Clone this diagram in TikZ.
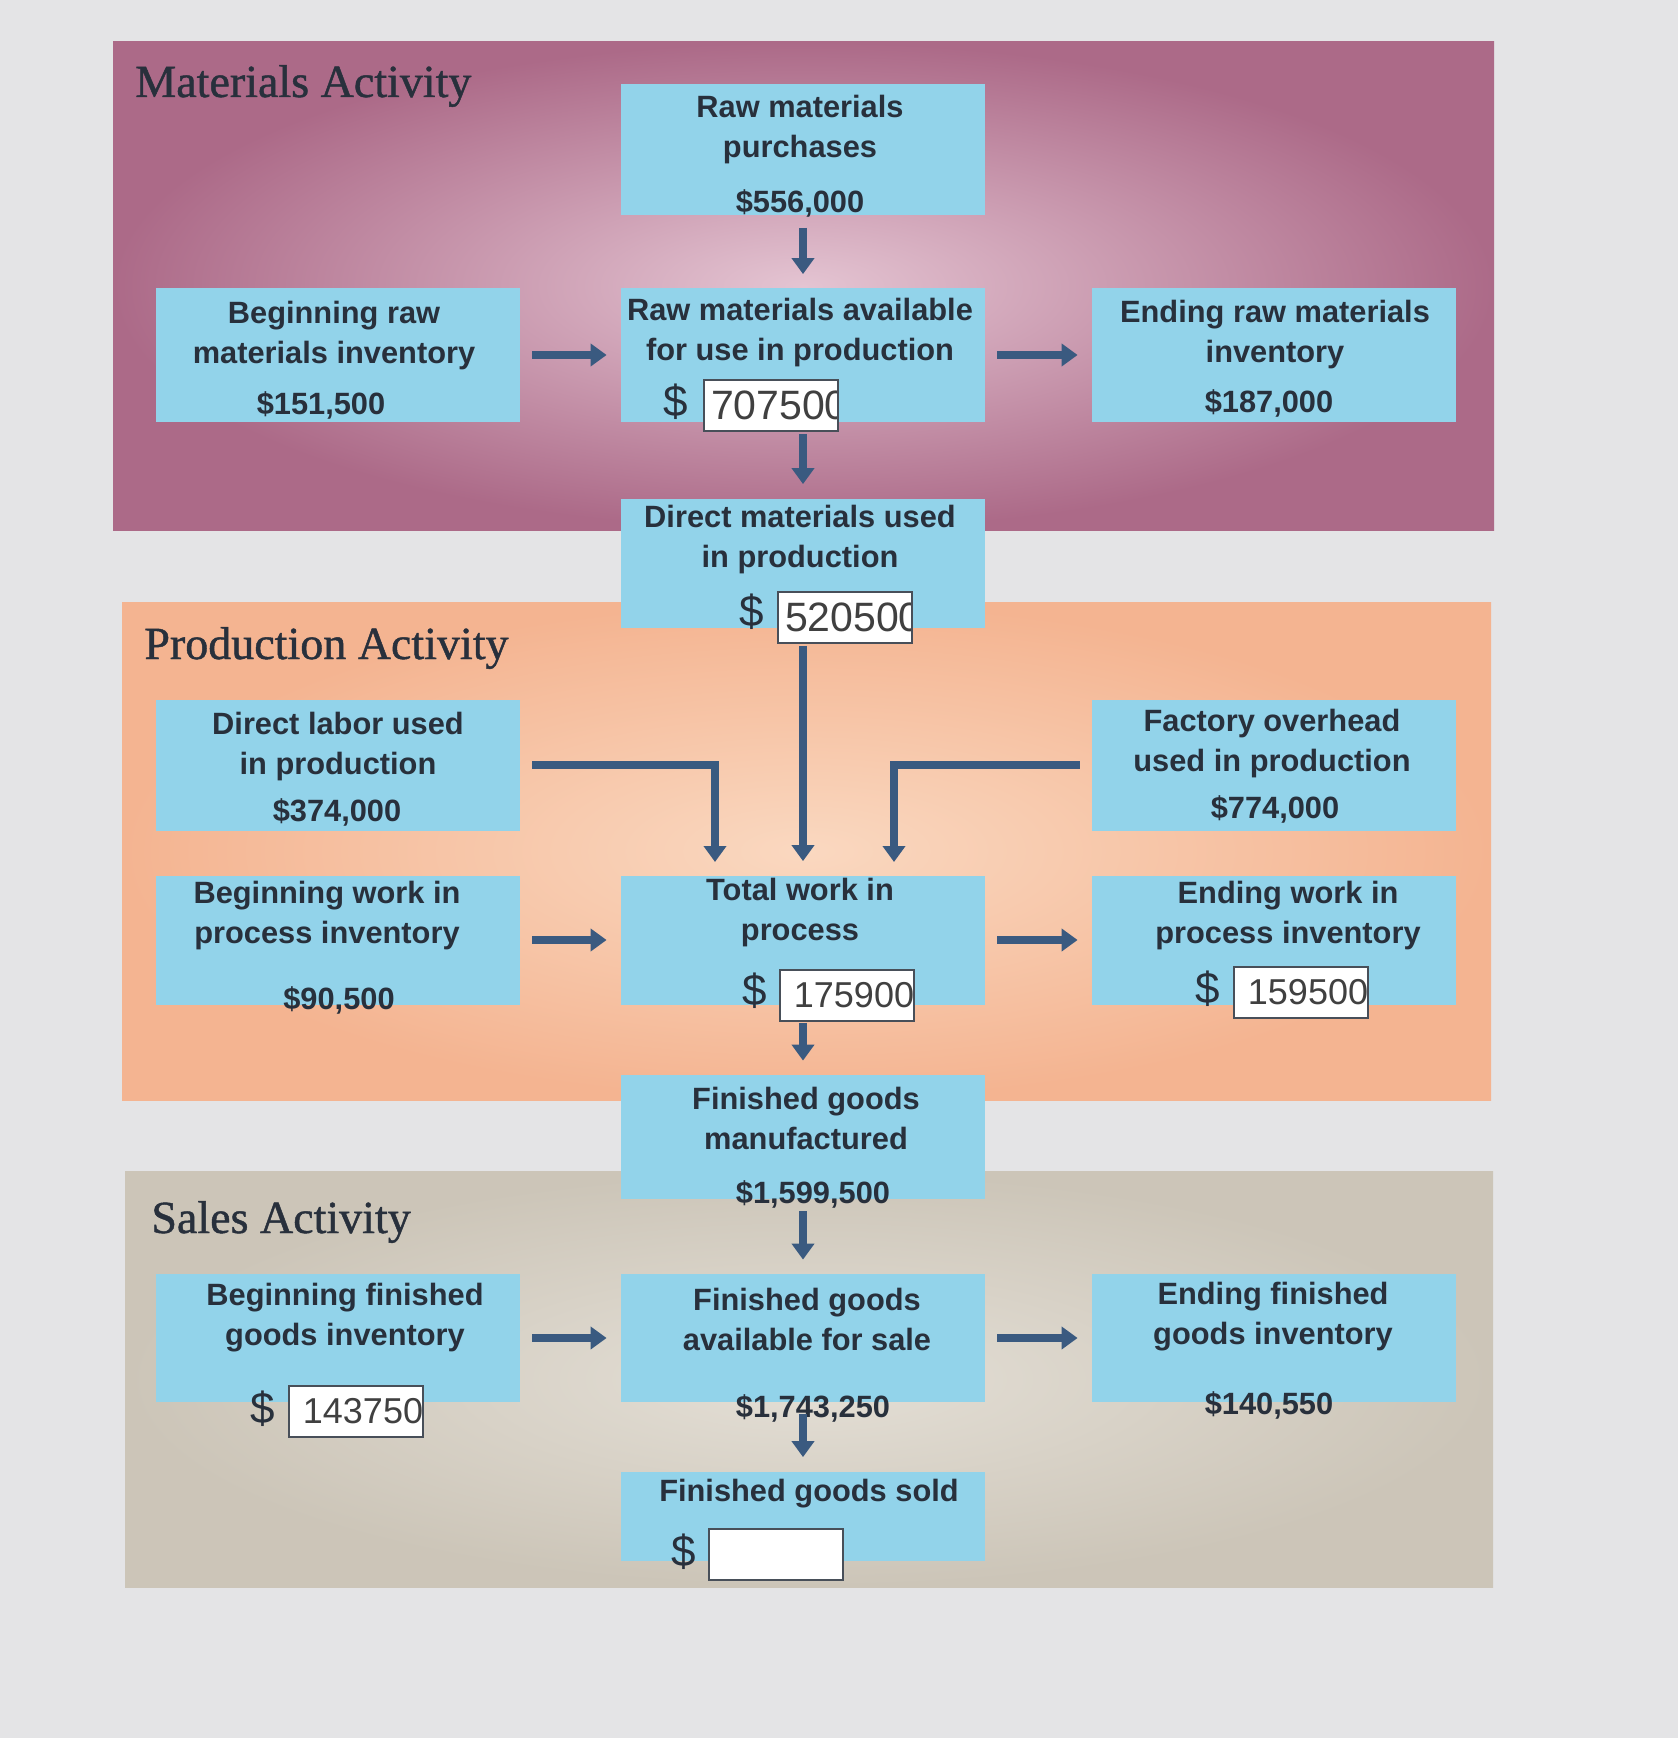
\documentclass[tikz,border=0pt]{standalone}
\usepackage{fontspec}
\setsansfont{Liberation Sans}
\newfontfamily\titlefont{Liberation Serif}[FakeBold=1]
\usetikzlibrary{arrows.meta}
\definecolor{pagebg}{RGB}{228,228,230}
\definecolor{matedge}{RGB}{172,106,136}
\definecolor{matcenter}{RGB}{228,196,210}
\definecolor{prodedge}{RGB}{244,180,145}
\definecolor{prodcenter}{RGB}{250,216,192}
\definecolor{saleedge}{RGB}{204,197,184}
\definecolor{salecenter}{RGB}{228,223,214}
\definecolor{boxblue}{RGB}{146,211,234}
\definecolor{arrowblue}{RGB}{58,90,128}
\definecolor{inkdark}{RGB}{40,48,60}
\begin{document}
\begin{tikzpicture}[x=0.5pt, y=-0.5pt,
      font=\sffamily\bfseries\fontsize{15.4}{20}\selectfont,
      blockbox/.style={fill=boxblue, minimum width=182pt, minimum height=#1, inner sep=0pt},
      blockbox/.default=66.5pt,
      boxlabel/.style={align=center, text=inkdark, inner sep=0pt},
      amount/.style={text=inkdark, inner sep=0pt},
      dollar/.style={font=\normalfont\sffamily\fontsize{22}{24}\selectfont, text=inkdark, inner sep=0pt},
      ansbox/.style 2 args={draw=inkdark!85, line width=1pt, fill=white, minimum width=67pt, minimum height=25.5pt, inner sep=0pt,
        path picture={\node[anchor=west, inner sep=0pt, text=black!75, font=\normalfont\sffamily\fontsize{#1}{#1}\selectfont]
          at ([xshift=3pt]path picture bounding box.west) {#2};}},
      pantitle/.style={font=\titlefont\fontsize{23}{27}\selectfont, anchor=west, text=inkdark, inner sep=0pt},
      flowarr/.style={-{Triangle[width=11pt,length=8pt]}, line width=4pt, arrowblue, shorten <=6pt, shorten >=7pt}]
    \useasboundingbox (0,0) rectangle (1678,1738);
    \fill[pagebg] (0,0) rectangle (1678,1738);
    % activity panels
    \shade[inner color=matcenter, outer color=matedge] (113,42) rectangle (1494,530);
    \shade[inner color=prodcenter, outer color=prodedge] (122,602) rectangle (1491,1100);
    \shade[inner color=salecenter, outer color=saleedge] (125,1171) rectangle (1493,1587);
    \node[pantitle] (mattitle) at (135,86) {Materials Activity};
    \node[pantitle] (prodtitle) at (144,648) {Production Activity};
    \node[pantitle] (saletitle) at (151,1222) {Sales Activity};
    % boxes
    \node[blockbox=65.5pt] (pur)  at (803,150)  {};
    \node[blockbox]        (bri)  at (338,355)  {};
    \node[blockbox]        (rma)  at (803,355)  {};
    \node[blockbox]        (eri)  at (1274,355) {};
    \node[blockbox=64.5pt] (dmu)  at (803,563)  {};
    \node[blockbox=65.5pt] (dlu)  at (338,765)  {};
    \node[blockbox=65.5pt] (foh)  at (1274,765) {};
    \node[blockbox=64.5pt] (bwip) at (338,940)  {};
    \node[blockbox=64.5pt] (twip) at (803,940)  {};
    \node[blockbox=64.5pt] (ewip) at (1274,940) {};
    \node[blockbox=62pt]   (fgm)  at (803,1137) {};
    \node[blockbox=64pt]   (bfg)  at (338,1338) {};
    \node[blockbox=64pt]   (fga)  at (803,1338) {};
    \node[blockbox=64pt]   (efg)  at (1274,1338) {};
    \node[blockbox=44.5pt] (fgs)  at (803,1516) {};
    % texts
    \node[boxlabel] (purl) at (800,130) {Raw materials\\purchases};
    \node[amount]   (purv) at (800,203) {\$556,000};
    \node[boxlabel] (bril) at (334,336) {Beginning raw\\materials inventory};
    \node[amount]   (briv) at (321,405) {\$151,500};
    \node[boxlabel] (rmal) at (800,333) {Raw materials available\\for use in production};
    \node[dollar]   (rmad) at (676,402) {\$};
    \node[boxlabel] (eril) at (1275,335) {Ending raw materials\\inventory};
    \node[amount]   (eriv) at (1269,403) {\$187,000};
    \node[boxlabel] (dmul) at (800,540) {Direct materials used\\in production};
    \node[dollar]   (dmud) at (752,612) {\$};
    \node[boxlabel] (dlul) at (338,747) {Direct labor used\\in production};
    \node[amount]   (dluv) at (337,812) {\$374,000};
    \node[boxlabel] (fohl) at (1272,744) {Factory overhead\\used in production};
    \node[amount]   (fohv) at (1275,809) {\$774,000};
    \node[boxlabel] (bwipl) at (327,916) {Beginning work in\\process inventory};
    \node[amount]   (bwipv) at (339,1000) {\$90,500};
    \node[boxlabel] (twipl) at (800,913) {Total work in\\process};
    \node[dollar]   (twipd) at (755,991) {\$};
    \node[boxlabel] (ewipl) at (1288,916) {Ending work in\\process inventory};
    \node[dollar]   (ewipd) at (1208,989) {\$};
    \node[boxlabel] (fgml) at (806,1118) {Finished goods\\manufactured};
    \node[amount]   (fgmv) at (813,1194) {\$1,599,500};
    \node[boxlabel] (bfgl) at (345,1318) {Beginning finished\\goods inventory};
    \node[dollar]   (bfgd) at (263,1409) {\$};
    \node[boxlabel] (fgal) at (807,1319) {Finished goods\\available for sale};
    \node[amount]   (fgav) at (813,1408) {\$1,743,250};
    \node[boxlabel] (efgl) at (1273,1317) {Ending finished\\goods inventory};
    \node[amount]   (efgv) at (1269,1405) {\$140,550};
    \node[boxlabel] (fgsl) at (809,1494) {Finished goods sold};
    \node[dollar]   (fgsd) at (684,1552) {\$};
    % connectors
    \coordinate (dlin) at (715,876);
    \coordinate (fohin) at (894,876);
    \draw[flowarr] (pur) -- (rma);
    \draw[flowarr] (bri) -- (rma);
    \draw[flowarr] (rma) -- (eri);
    \draw[flowarr] (rma) -- (dmu);
    \draw[flowarr, shorten <=9pt] (dmu) -- (twip);
    \draw[flowarr] (dlu) -| (dlin);
    \draw[flowarr] (foh) -| (fohin);
    \draw[flowarr] (bwip) -- (twip);
    \draw[flowarr] (twip) -- (ewip);
    \draw[flowarr, shorten <=9pt] (twip) -- (fgm);
    \draw[flowarr] (fgm) -- (fga);
    \draw[flowarr] (bfg) -- (fga);
    \draw[flowarr] (fga) -- (efg);
    \draw[flowarr] (fga) -- (fgs);
    % answer fields
    \node[ansbox={20.5}{707500}] (rmaa)  at (771,405)  {};
    \node[ansbox={20.5}{520500}] (dmua)  at (845,617)  {};
    \node[ansbox={18}{175900}]   (twipa) at (847,995)  {};
    \node[ansbox={18}{159500}]   (ewipa) at (1301,992) {};
    \node[ansbox={18}{143750}]   (bfga)  at (356,1411) {};
    \node[ansbox={18}{}]         (fgsa)  at (776,1554) {};
  \end{tikzpicture}
\end{document}
